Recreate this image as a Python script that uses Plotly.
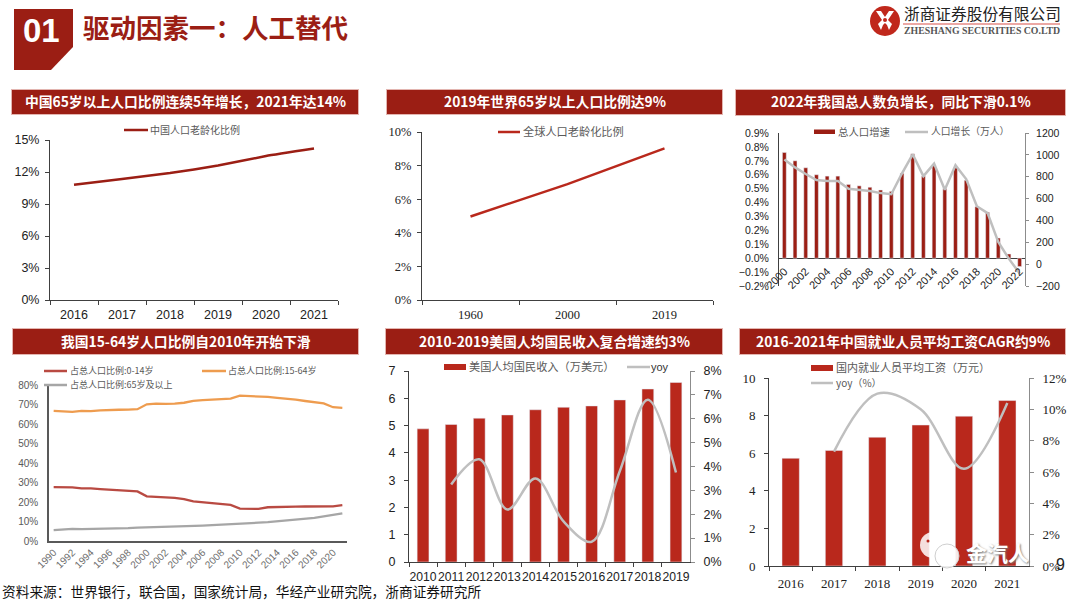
import plotly.graph_objects as go

W, H = 1080, 601
DARK_RED = "#9b1e14"
BAR_RED = "#b9281c"
GREY_LINE = "#bfbfbf"
SANS = "Liberation Sans"
SERIF = "Liberation Serif"
CJK = "Noto Sans CJK SC"

# chart data
aging_years = ["2016", "2017", "2018", "2019", "2020", "2021"]
aging_china = [10.8, 11.35, 11.9, 12.6, 13.5, 14.2]

world_years = ["1960", "2000", "2019"]
world_aging = [4.97, 6.9, 9.03]

pop_years = list(range(2000, 2023))
pop_growth_rate = [0.76, 0.70, 0.65, 0.60, 0.59, 0.59, 0.53, 0.52, 0.51, 0.49, 0.48, 0.61,
                   0.75, 0.59, 0.67, 0.50, 0.65, 0.56, 0.37, 0.33, 0.145, 0.03, -0.06]
pop_growth_abs = [957, 885, 825, 770, 760, 760, 690, 680, 670, 650, 640, 830,
                  1005, 805, 920, 680, 906, 779, 530, 467, 204, 48, -85]

age_years = list(range(1990, 2022))
age_0_14 = [27.6, 27.6, 27.5, 27.0, 27.0, 26.6, 26.3, 26.0, 25.7, 25.4, 22.9, 22.5, 22.4, 22.1, 21.5, 20.3,
            19.8, 19.4, 19.0, 18.5, 16.6, 16.5, 16.5, 17.3, 17.3, 17.4, 17.6, 17.7, 17.7, 17.7, 17.8, 18.4]
age_15_64 = [66.7, 66.3, 66.2, 66.7, 66.6, 67.0, 67.0, 67.3, 67.4, 67.6, 70.1, 70.4, 70.3, 70.4, 70.9, 71.9,
             72.2, 72.5, 72.7, 73.0, 74.5, 74.4, 74.1, 73.9, 73.4, 73.0, 72.5, 71.8, 71.2, 70.6, 68.6, 68.3]
age_65 = [5.6, 5.9, 6.2, 6.1, 6.2, 6.1, 6.2, 6.4, 6.6, 6.9, 7.0, 7.1, 7.3, 7.5, 7.6, 7.7,
          7.9, 8.1, 8.3, 8.5, 8.9, 9.1, 9.4, 9.7, 10.1, 10.5, 10.8, 11.4, 11.9, 12.6, 13.5, 14.2]

us_years = ["2010", "2011", "2012", "2013", "2014", "2015", "2016", "2017", "2018", "2019"]
us_income = [4.88, 5.04, 5.27, 5.39, 5.58, 5.67, 5.72, 5.94, 6.34, 6.58]
us_yoy = [None, 3.25, 4.3, 2.2, 3.5, 1.7, 0.85, 3.8, 6.8, 3.75]

wage_years = ["2016", "2017", "2018", "2019", "2020", "2021"]
wage_avg = [5.73, 6.15, 6.85, 7.5, 7.97, 8.8]
wage_yoy = [None, 7.3, 11.0, 10.0, 6.2, 10.4]

headers = [
    ("中国65岁以上人口比例连续5年增长，2021年达14%", 12, 358, 90, 114),
    ("2019年世界65岁以上人口比例达9%", 387, 722, 90, 114),
    ("2022年我国总人数负增长，同比下滑0.1%", 736, 1065, 90, 115),
    ("我国15-64岁人口比例自2010年开始下滑", 13, 358, 329, 354),
    ("2010-2019美国人均国民收入复合增速约3%", 386, 722, 329, 354),
    ("2016-2021年中国就业人员平均工资CAGR约9%", 740, 1065, 329, 354),
]


def px(x):
    return x / W


def py(y):
    return 1 - y / H


def dom_x(left, right):
    return [px(left), px(right)]


def dom_y(top, bottom):
    return [py(bottom), py(top)]


fig = go.Figure()
shapes = []
notes = []


def add_text(x, y, text, size, color="#000000", family=CJK, anchor="left", weight=None, shadow=None):
    font = dict(size=size, color=color, family=family)
    if weight:
        font["weight"] = weight
    if shadow:
        font["shadow"] = shadow
    # annotations carry a little padding and the CJK font sits low
    if anchor == "left":
        x -= 2
    if family == CJK:
        y -= 1
    notes.append(dict(x=px(x), y=py(y), xref="paper", yref="paper", text=text, showarrow=False,
                      xanchor=anchor, yanchor="middle", font=font))


def add_rect(x0, y0, x1, y1, color, layer="above"):
    shapes.append(dict(type="rect", xref="paper", yref="paper", x0=px(x0), x1=px(x1), y0=py(y0), y1=py(y1),
                       fillcolor=color, line_width=0, layer=layer))


def add_path(points, color, line_color=None, line_width=0):
    path = "M" + " L".join(f"{px(x):.5f},{py(y):.5f}" for x, y in points) + " Z"
    shapes.append(dict(type="path", xref="paper", yref="paper", path=path, fillcolor=color,
                       line=dict(color=line_color or color, width=line_width), layer="above"))


def add_circle(cx, cy, r, color, line_color=None):
    shapes.append(dict(type="circle", xref="paper", yref="paper", x0=px(cx - r), x1=px(cx + r),
                       y0=py(cy + r), y1=py(cy - r), fillcolor=color,
                       line=dict(color=line_color or color, width=1 if line_color else 0), layer="above"))


def legend_line(x0, x1, y, color, width=2.5):
    shapes.append(dict(type="line", xref="paper", yref="paper", x0=px(x0), x1=px(x1), y0=py(y), y1=py(y),
                       line=dict(color=color, width=width), layer="above"))


def x_axis(anchor, left, right, n, family, size, color="#222222", **kw):
    opts = dict(domain=dom_x(left, right), anchor=anchor, type="category", tickson="boundaries",
                range=[-0.5, n - 0.5], tickangle=0, automargin=False,
                showgrid=False, zeroline=False, showline=True, linecolor="#404040", linewidth=1,
                ticks="outside", ticklen=4, tickcolor="#404040", ticklabelstandoff=3,
                tickfont=dict(family=family, size=size, color=color))
    opts.update(kw)
    return opts


def y_axis(anchor, top, bottom, rng, dtick, family, size, color="#222222", **kw):
    opts = dict(domain=dom_y(top, bottom), anchor=anchor, range=rng, dtick=dtick, automargin=False,
                showgrid=False, zeroline=False, showline=True, linecolor="#404040", linewidth=1,
                ticks="outside", ticklen=4, tickcolor="#404040", ticklabelstandoff=3,
                tickfont=dict(family=family, size=size, color=color))
    opts.update(kw)
    return opts


# chart 1
fig.add_trace(go.Scatter(x=aging_years, y=aging_china, name="中国人口老龄化比例", mode="lines",
                         line=dict(color=DARK_RED, width=2.5, shape="spline", smoothing=0.4),
                         xaxis="x", yaxis="y"))
# chart 2
fig.add_trace(go.Scatter(x=world_years, y=world_aging, name="全球人口老龄化比例", mode="lines",
                         line=dict(color=BAR_RED, width=2.5), xaxis="x2", yaxis="y2"))
# chart 3
fig.add_trace(go.Bar(x=pop_years, y=pop_growth_rate, name="总人口增速", marker_color=DARK_RED, width=0.36,
                     xaxis="x3", yaxis="y3"))
fig.add_trace(go.Scatter(x=pop_years, y=pop_growth_abs, name="人口增长（万人）", mode="lines",
                         line=dict(color=GREY_LINE, width=2.5), xaxis="x3", yaxis="y7"))
# chart 4
fig.add_trace(go.Scatter(x=age_years, y=age_0_14, name="占总人口比例:0-14岁", mode="lines",
                         line=dict(color="#b94a42", width=2.3), xaxis="x4", yaxis="y4"))
fig.add_trace(go.Scatter(x=age_years, y=age_15_64, name="占总人口比例:15-64岁", mode="lines",
                         line=dict(color="#ee9c4f", width=2.3), xaxis="x4", yaxis="y4"))
fig.add_trace(go.Scatter(x=age_years, y=age_65, name="占总人口比例:65岁及以上", mode="lines",
                         line=dict(color="#a6a6a6", width=2.3), xaxis="x4", yaxis="y4"))
# chart 5
fig.add_trace(go.Bar(x=us_years, y=us_income, name="美国人均国民收入（万美元）", marker_color=BAR_RED, width=0.42,
                     xaxis="x5", yaxis="y5"))
fig.add_trace(go.Scatter(x=us_years, y=us_yoy, name="yoy", mode="lines",
                         line=dict(color=GREY_LINE, width=2.5, shape="spline", smoothing=1.0),
                         xaxis="x5", yaxis="y8"))
# chart 6
fig.add_trace(go.Bar(x=wage_years, y=wage_avg, name="国内就业人员平均工资（万元）", marker_color=BAR_RED, width=0.4,
                     xaxis="x6", yaxis="y6"))
fig.add_trace(go.Scatter(x=wage_years, y=wage_yoy, name="yoy（%）", mode="lines",
                         line=dict(color=GREY_LINE, width=2.5, shape="spline", smoothing=1.0),
                         xaxis="x6", yaxis="y9"))

layout_axes = dict(
    xaxis=x_axis("y", 50, 338, len(aging_years), SANS, 12.5),
    yaxis=y_axis("x", 140, 300, [0, 15], 3, SANS, 12.5, ticksuffix="%"),
    xaxis2=x_axis("y2", 422, 713, len(world_years), SERIF, 12.5),
    yaxis2=y_axis("x2", 132, 300, [0, 10], 2, SERIF, 12.5, ticksuffix="%"),
    # x labels of chart 3 sit under the zero line, over the negative part of the plot
    xaxis3=dict(domain=dom_x(779, 1025), anchor="free", position=py(262), range=[1999.5, 2022.5], dtick=2,
                tick0=2000, showgrid=False, zeroline=False, showline=False, ticks="", tickangle=-45, automargin=False,
                tickfont=dict(family=SANS, size=11, color="#222222")),
    yaxis3=y_axis("x3", 133, 286, [-0.2, 0.9], 0.1, SANS, 10.5, ticksuffix="%", tickformat=".1f", ticks="",
                  ticklabelstandoff=7, zeroline=True, zerolinecolor="#404040", zerolinewidth=1),
    yaxis7=y_axis("x3", 133, 286, [-200, 1200], 200, SANS, 10.5, overlaying="y3", side="right", ticklen=3,
                  ticklabelstandoff=5, linecolor="#8c8c8c", tickcolor="#8c8c8c"),
    xaxis4=dict(domain=dom_x(49, 347), anchor="y4", range=[1989.5, 2021.5], dtick=2, tick0=1990, automargin=False,
                showgrid=False, zeroline=False, showline=True, linecolor="#595959", linewidth=1.5, ticks="",
                tickangle=-45, tickfont=dict(family=SANS, size=10, color="#6e6e6e")),
    yaxis4=y_axis("x4", 385, 541, [0, 80], 10, SANS, 10, color="#595959", ticksuffix="%", ticks="",
                  ticklabelstandoff=7, linecolor="#595959", linewidth=1.5),
    xaxis5=x_axis("y5", 409, 690, len(us_years), SANS, 12.2, ticklabelstandoff=3),
    yaxis5=y_axis("x5", 371, 562, [0, 7], 1, SANS, 12.5, ticklabelstandoff=6),
    yaxis8=y_axis("x5", 371, 562, [0, 8], 1, SANS, 12.5, overlaying="y5", side="right", ticksuffix="%",
                  ticklabelstandoff=6, linecolor="#8c8c8c", tickcolor="#8c8c8c"),
    xaxis6=x_axis("y6", 769, 1029, len(wage_years), SERIF, 13, ticklabelstandoff=5),
    yaxis6=y_axis("x6", 378, 566, [0, 10], 2, SERIF, 13, ticklabelstandoff=6),
    yaxis9=y_axis("x6", 378, 566, [0, 12], 2, SERIF, 13, overlaying="y6", side="right", ticksuffix="%",
                  ticklabelstandoff=6, linecolor="#8c8c8c", tickcolor="#8c8c8c"),
)

# page header
add_path([(14, 9), (73, 9), (73, 47), (51, 70), (14, 70)], DARK_RED)
add_text(41, 31, "01", 33, "#ffffff", SANS, "center", 700)
add_text(83, 28, "驱动因素一：人工替代", 26.5, DARK_RED, CJK, "left", 700)

# logo
add_circle(885, 21, 15, "#c0281c")
add_path([(876, 11), (881, 11), (885, 17), (889, 11), (894, 11), (888, 20), (892, 24), (889, 30), (887, 25),
          (885, 23), (883, 25), (881, 30), (878, 24), (882, 20)], "#ffffff")
add_circle(885, 20, 2, "#c0281c")
add_text(904, 15, "浙商证券股份有限公司", 15.7, "#222222", CJK)
legend_line(903, 1060, 24, "#d9534a", 1.2)
add_text(904, 31, "ZHESHANG SECURITIES CO.LTD", 9.8, "#555555", SERIF, "left", 700)

# panel headers
for text, left, right, top, bottom in headers:
    add_rect(left - 1, top - 1, right + 1, bottom + 1, "#e3b5b0", "below")
    add_rect(left, top, right, bottom, DARK_RED, "below")
    add_text((left + right) / 2, (top + bottom) / 2, text, 13.8, "#ffffff", CJK, "center", 700)

# hand placed legends, each panel keeps its own layout
LEGEND_GREY = "#595959"
legend_line(124, 148, 130, DARK_RED)
add_text(150, 130, "中国人口老龄化比例", 10, LEGEND_GREY)
legend_line(498, 520, 132, BAR_RED)
add_text(523, 132, "全球人口老龄化比例", 11.2, LEGEND_GREY)
add_rect(814, 129.5, 835, 134, DARK_RED)
add_text(838, 132, "总人口增速", 10.4, LEGEND_GREY)
legend_line(905, 928, 132, GREY_LINE)
add_text(931, 132, "人口增长（万人）", 9.8, LEGEND_GREY)
legend_line(44, 67, 371, "#b94a42")
add_text(70, 371, "占总人口比例:0-14岁", 9, LEGEND_GREY)
legend_line(202, 226, 371, "#ee9c4f")
add_text(228, 371, "占总人口比例:15-64岁", 9, LEGEND_GREY)
legend_line(44, 67, 385, "#a6a6a6")
add_text(70, 385, "占总人口比例:65岁及以上", 9, LEGEND_GREY)
add_rect(444, 364, 466, 370, BAR_RED)
add_text(469, 367, "美国人均国民收入（万美元）", 11.2, LEGEND_GREY)
legend_line(627, 650, 367, GREY_LINE)
add_text(651, 367, "yoy", 11, "#333333", SANS)
add_rect(811, 365, 833, 371, BAR_RED)
add_text(836, 368, "国内就业人员平均工资（万元）", 11, LEGEND_GREY)
legend_line(811, 833, 383, GREY_LINE)
add_text(836, 383, "yoy（%）", 10, LEGEND_GREY)

# footer, page number and the watermark on top of the last chart
add_text(2, 592, "资料来源：世界银行，联合国，国家统计局，华经产业研究院，浙商证券研究所", 13.7, "#111111")
add_text(1056, 564, "9", 16, "#222222", SANS)
add_circle(933, 545, 13, "rgba(255,255,255,0.85)")
add_circle(947, 556, 12, "rgba(255,255,255,0.9)", "#cfcfcf")
add_circle(928, 541, 1.5, BAR_RED)
add_text(966, 553, "金汽人", 21, "#ffffff", CJK, "left", 700, shadow="1px 1px 2px #777777")

fig.update_layout(
    width=W,
    height=H,
    margin=dict(l=0, r=0, t=0, b=0),
    paper_bgcolor="#ffffff",
    plot_bgcolor="rgba(0,0,0,0)",
    showlegend=False,
    barmode="overlay",
    shapes=shapes,
    annotations=notes,
    font=dict(family=SANS),
    **layout_axes,
)
fig.write_html("out.html", config=dict(displayModeBar=False),
               post_script="document.body.style.margin='0';document.body.style.overflow='hidden';")
